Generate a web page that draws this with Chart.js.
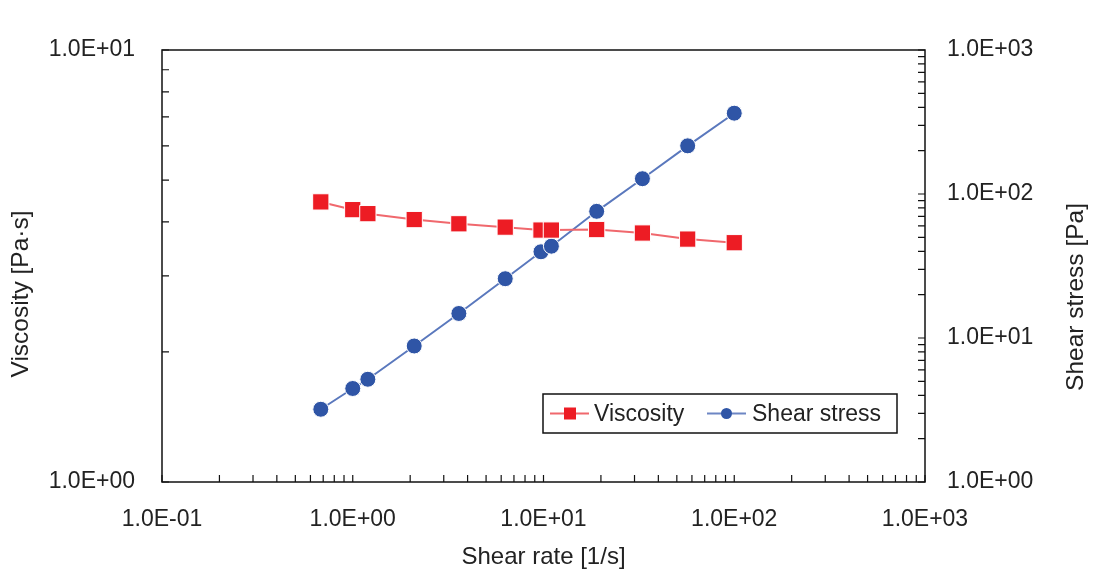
<!DOCTYPE html>
<html>
<head>
<meta charset="utf-8">
<script src="https://cdn.jsdelivr.net/npm/chart.js@4/dist/chart.umd.min.js"></script>
<style>
  html, body { margin: 0; padding: 0; background: #fff; }
  #wrap { width: 1095px; height: 577px; }
</style>
</head>
<body>
<div id="wrap"><canvas id="chart"></canvas></div>
<script>
// values
const shearRate = [0.68, 1.0, 1.2, 2.1, 3.6, 6.3, 9.7, 11, 19, 33, 57, 100];
const viscosity = [4.45, 4.27, 4.18, 4.05, 3.96, 3.89, 3.83, 3.83, 3.84, 3.77, 3.65, 3.58];
const shearStress = [3.2, 4.46, 5.17, 8.8, 14.8, 25.8, 39.7, 43.4, 75.8, 127.7, 216, 364];
const seriesNames = ['Viscosity', 'Shear stress'];
const axisTitles = ['Shear rate [1/s]', 'Viscosity [Pa·s]', 'Shear stress [Pa]'];

const FONT = '"Liberation Sans", Arial, sans-serif';
const RED = '#ed1c24';
const BLUE = '#2f55a6';

function isDecade(v) {
  const l = Math.log10(v);
  return Math.abs(l - Math.round(l)) < 1e-9;
}

function sci(v) {
  const e = Math.round(Math.log10(v));
  const sign = e < 0 ? '-' : '+';
  return '1.0E' + sign + String(Math.abs(e)).padStart(2, '0');
}

function tickLabel(v) {
  return isDecade(v) ? sci(v) : '';
}

// minor + major tick values for a log range
function logTicks(min, max) {
  const out = [];
  for (let d = Math.round(Math.log10(min)); d < Math.round(Math.log10(max)); d++) {
    for (let m = 1; m < 10; m++) out.push(m * Math.pow(10, d));
  }
  out.push(max);
  return out;
}

// frame, inward ticks, vertical titles and legend
const framePlugin = {
  id: 'frame',
  afterDraw(chart) {
    const { ctx, chartArea: a, scales } = chart;
    ctx.save();
    ctx.strokeStyle = '#111';
    ctx.lineWidth = 1.5;
    ctx.strokeRect(a.left, a.top, a.right - a.left, a.bottom - a.top);

    ctx.lineWidth = 1.2;
    ctx.beginPath();
    logTicks(0.1, 1000).forEach(v => {
      const x = scales.x.getPixelForValue(v);
      ctx.moveTo(x, a.bottom);
      ctx.lineTo(x, a.bottom - 7);
    });
    logTicks(1, 10).forEach(v => {
      const y = scales.y.getPixelForValue(v);
      ctx.moveTo(a.left, y);
      ctx.lineTo(a.left + 7, y);
    });
    logTicks(1, 1000).forEach(v => {
      const y = scales.y2.getPixelForValue(v);
      ctx.moveTo(a.right, y);
      ctx.lineTo(a.right - 7, y);
    });
    ctx.stroke();

    // both y titles read bottom to top
    ctx.fillStyle = '#222';
    ctx.font = '24.5px ' + FONT;
    ctx.textAlign = 'center';
    ctx.textBaseline = 'middle';
    [[21, 294, axisTitles[1]], [1076, 297, axisTitles[2]]].forEach(t => {
      ctx.save();
      ctx.translate(t[0], t[1]);
      ctx.rotate(-Math.PI / 2);
      ctx.fillText(t[2], 0, 0);
      ctx.restore();
    });

    // legend box inside the plot
    const bx = 543, by = 394, bw = 354, bh = 39;
    ctx.fillStyle = '#fff';
    ctx.fillRect(bx, by, bw, bh);
    ctx.lineWidth = 1.5;
    ctx.strokeStyle = '#111';
    ctx.strokeRect(bx, by, bw, bh);

    const cy = by + bh / 2;
    const items = [
      { x: 550, color: RED, light: '#f0686d', style: 'rect', text: seriesNames[0], tx: 594 },
      { x: 707, color: BLUE, light: '#6d86c4', style: 'circle', text: seriesNames[1], tx: 752 }
    ];
    items.forEach(it => {
      ctx.strokeStyle = it.light;
      ctx.lineWidth = 2;
      ctx.beginPath();
      ctx.moveTo(it.x, cy);
      ctx.lineTo(it.x + 39, cy);
      ctx.stroke();
      ctx.fillStyle = it.color;
      if (it.style === 'rect') {
        ctx.fillRect(it.x + 14, cy - 6, 12, 12);
      } else {
        ctx.beginPath();
        ctx.arc(it.x + 19.5, cy, 5.5, 0, Math.PI * 2);
        ctx.fill();
      }
      ctx.fillStyle = '#222';
      ctx.font = '23px ' + FONT;
      ctx.textBaseline = 'middle';
      ctx.textAlign = 'left';
      ctx.fillText(it.text, it.tx, cy + 1);
    });
    ctx.restore();
  }
};

const ctx = document.getElementById('chart').getContext('2d');

new Chart(ctx, {
  type: 'scatter',
  data: {
    datasets: [
      {
        label: seriesNames[0],
        data: shearRate.map((x, i) => ({ x: x, y: viscosity[i] })),
        yAxisID: 'y',
        showLine: true,
        borderColor: '#f0686d',
        borderWidth: 2,
        backgroundColor: RED,
        pointStyle: 'rect',
        pointRadius: 11.5,
        pointBorderColor: '#fff',
        pointBorderWidth: 1,
        pointHoverRadius: 11.5
      },
      {
        label: seriesNames[1],
        data: shearRate.map((x, i) => ({ x: x, y: shearStress[i] })),
        yAxisID: 'y2',
        showLine: true,
        borderColor: '#5a78bd',
        borderWidth: 2,
        backgroundColor: BLUE,
        pointStyle: 'circle',
        pointRadius: 8,
        pointBorderColor: '#fff',
        pointBorderWidth: 1,
        pointHoverRadius: 8
      }
    ]
  },
  options: {
    responsive: true,
    maintainAspectRatio: false,
    animation: false,
    layout: { padding: { top: 50, left: 0, right: 0, bottom: 0 } },
    plugins: {
      legend: { display: false },
      tooltip: { enabled: false }
    },
    scales: {
      x: {
        type: 'logarithmic',
        position: 'bottom',
        min: 0.1,
        max: 1000,
        grid: { display: false, drawTicks: false },
        border: { display: false },
        ticks: {
          autoSkip: false,
          maxRotation: 0,
          padding: 24,
          color: '#222',
          font: { family: FONT, size: 23 },
          callback: tickLabel
        },
        title: {
          display: true,
          text: axisTitles[0],
          color: '#222',
          font: { family: FONT, size: 24 },
          padding: 5
        },
        afterFit(s) { s.height = 95; }
      },
      y: {
        type: 'logarithmic',
        position: 'left',
        min: 1,
        max: 10,
        grid: { display: false, drawTicks: false },
        border: { display: false },
        ticks: {
          autoSkip: false,
          padding: 27,
          color: '#222',
          font: { family: FONT, size: 23 },
          callback: tickLabel
        },
        afterFit(s) { s.width = 162; }
      },
      y2: {
        type: 'logarithmic',
        position: 'right',
        min: 1,
        max: 1000,
        grid: { display: false, drawTicks: false },
        border: { display: false },
        ticks: {
          autoSkip: false,
          padding: 22,
          color: '#222',
          font: { family: FONT, size: 23 },
          callback: tickLabel
        },
        afterFit(s) { s.width = 170; }
      }
    }
  },
  plugins: [framePlugin]
});
</script>
</body>
</html>
